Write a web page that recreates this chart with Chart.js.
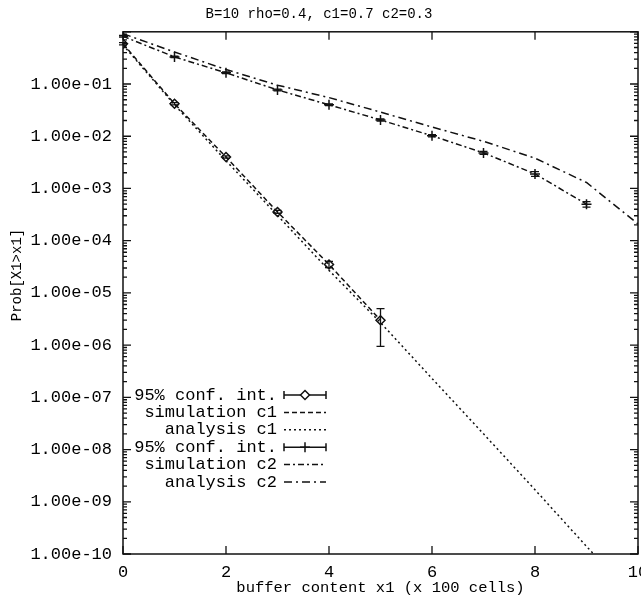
<!DOCTYPE html>
<html><head><meta charset="utf-8">
<script src="https://cdn.jsdelivr.net/npm/chart.js@4.4.1/dist/chart.umd.min.js"></script>
<style>
html,body{margin:0;padding:0;background:#fff;overflow:hidden;}
#wrap{width:660px;height:600px;position:relative;}
</style></head><body>
<div id="wrap"><canvas id="c"></canvas></div>
<script>
// ---- data ----
const titleText = 'B=10 rho=0.4, c1=0.7 c2=0.3';
const xTitle = 'buffer content x1 (x 100 cells)';
const yTitle = 'Prob[X1>x1]';

const xSimC1 = [0, 1, 2, 3, 4, 5];
const simC1  = [0.59, 0.042, 4.0e-3, 3.55e-4, 3.5e-5, 3.0e-6];
const simC1Lo = [0.56, 0.040, 3.8e-3, 3.35e-4, 3.05e-5, 9.5e-7];
const simC1Hi = [0.62, 0.044, 4.2e-3, 3.8e-4, 4.0e-5, 5.0e-6];

const xAnaC1 = [0, 1, 2, 3, 4, 5, 6, 7, 8, 9, 10];
const anaC1  = [0.56, 0.040, 3.4e-3, 3.05e-4, 2.7e-5, 2.7e-6, 2.3e-7, 2.0e-8, 1.7e-9, 1.4e-10, 1.2e-11];

const xSimC2 = [0, 1, 2, 3, 4, 5, 6, 7, 8, 9];
const simC2  = [0.82, 0.33, 0.164, 0.077, 0.040, 0.0205, 0.0102, 4.8e-3, 1.9e-3, 5.0e-4];
const simC2Lo = [0.79, 0.32, 0.158, 0.074, 0.0385, 0.0196, 0.0097, 4.5e-3, 1.7e-3, 4.4e-4];
const simC2Hi = [0.85, 0.34, 0.170, 0.080, 0.0415, 0.0214, 0.0107, 5.1e-3, 2.1e-3, 5.6e-4];

const xAnaC2 = [0, 1, 2, 3, 4, 5, 6, 7, 8, 9, 10];
const anaC2  = [0.92, 0.41, 0.19, 0.095, 0.055, 0.029, 0.015, 0.0080, 0.0038, 0.0013, 0.00021];

const xTickValues = [0, 2, 4, 6, 8, 10];
const yTickValues = [1e-10, 1e-9, 1e-8, 1e-7, 1e-6, 1e-5, 1e-4, 1e-3, 1e-2, 1e-1, 1];
const yTickLabels = ['1.00e-10','1.00e-09','1.00e-08','1.00e-07','1.00e-06','1.00e-05','1.00e-04','1.00e-03','1.00e-02','1.00e-01',''];

const legendLabels = ['95% conf. int.', 'simulation c1', 'analysis c1', '95% conf. int.', 'simulation c2', 'analysis c2'];

// ---- build ----
const pts = (xs, ys) => xs.map((x, i) => ({x: x, y: ys[i]}));
const FONT = "'Liberation Mono', 'DejaVu Sans Mono', monospace";
const INK = '#111';
const dashSimC1 = [5, 3];
const dashAnaC1 = [2, 3];
const dashSimC2 = [6, 3, 2, 3];
const dashAnaC2 = [8, 4, 2, 4];

const datasets = [
  {label: 'simulation c1', data: pts(xSimC1, simC1), borderColor: INK, borderWidth: 1.5, borderDash: dashSimC1,
   pointStyle: 'rectRot', pointRadius: 4.5, pointBorderWidth: 1.5, pointBorderColor: INK, pointBackgroundColor: 'rgba(0,0,0,0)', tension: 0},
  {label: 'analysis c1', data: pts(xAnaC1, anaC1), borderColor: INK, borderWidth: 1.5, borderDash: dashAnaC1, pointRadius: 0, tension: 0},
  {label: 'simulation c2', data: pts(xSimC2, simC2), borderColor: INK, borderWidth: 1.5, borderDash: dashSimC2,
   pointStyle: 'cross', pointRadius: 5, pointBorderWidth: 1.5, pointBorderColor: INK, tension: 0},
  {label: 'analysis c2', data: pts(xAnaC2, anaC2), borderColor: INK, borderWidth: 1.5, borderDash: dashAnaC2, pointRadius: 0, tension: 0}
];

function drawDiamond(ctx, x, y, r) {
  ctx.beginPath();
  ctx.moveTo(x, y - r); ctx.lineTo(x + r, y); ctx.lineTo(x, y + r); ctx.lineTo(x - r, y); ctx.closePath();
  ctx.stroke();
}
function drawPlus(ctx, x, y, r) {
  ctx.beginPath();
  ctx.moveTo(x - r, y); ctx.lineTo(x + r, y); ctx.moveTo(x, y - r); ctx.lineTo(x, y + r);
  ctx.stroke();
}

const deco = {
  id: 'deco',
  beforeDatasetsDraw(chart) {
    const ctx = chart.ctx, xs = chart.scales.x, ys = chart.scales.y;
    ctx.save();
    ctx.strokeStyle = INK; ctx.lineWidth = 1.3; ctx.setLineDash([]);
    const bars = (xv, lo, hi) => {
      xv.forEach((xx, i) => {
        const px = xs.getPixelForValue(xx);
        const p1 = ys.getPixelForValue(lo[i]), p2 = ys.getPixelForValue(hi[i]);
        ctx.beginPath();
        ctx.moveTo(px, p1); ctx.lineTo(px, p2);
        ctx.moveTo(px - 4, p1); ctx.lineTo(px + 4, p1);
        ctx.moveTo(px - 4, p2); ctx.lineTo(px + 4, p2);
        ctx.stroke();
      });
    };
    bars(xSimC1, simC1Lo, simC1Hi);
    bars(xSimC2, simC2Lo, simC2Hi);
    ctx.restore();
  },
  afterDraw(chart) {
    const ctx = chart.ctx, a = chart.chartArea, xs = chart.scales.x, ys = chart.scales.y;
    ctx.save();
    ctx.strokeStyle = INK; ctx.setLineDash([]);
    // frame
    ctx.lineWidth = 1.5;
    ctx.strokeRect(a.left, a.top, a.right - a.left, a.bottom - a.top);
    // x ticks (inward, top and bottom)
    ctx.lineWidth = 1.3;
    ctx.beginPath();
    xTickValues.forEach(v => {
      const px = xs.getPixelForValue(v);
      ctx.moveTo(px, a.bottom); ctx.lineTo(px, a.bottom - 8);
      ctx.moveTo(px, a.top); ctx.lineTo(px, a.top + 8);
    });
    // y ticks major + minor (inward, left and right)
    yTickValues.forEach((v, k) => {
      const py = ys.getPixelForValue(v);
      ctx.moveTo(a.left, py); ctx.lineTo(a.left + 8, py);
      ctx.moveTo(a.right, py); ctx.lineTo(a.right - 8, py);
      if (k < yTickValues.length - 1) {
        for (let m = 2; m <= 9; m++) {
          const pm = ys.getPixelForValue(v * m);
          ctx.moveTo(a.left, pm); ctx.lineTo(a.left + 4, pm);
          ctx.moveTo(a.right, pm); ctx.lineTo(a.right - 4, pm);
        }
      }
    });
    ctx.stroke();

    // y title
    ctx.fillStyle = '#000';
    ctx.font = '14px ' + FONT;
    ctx.save();
    ctx.translate(17, 275);
    ctx.rotate(-Math.PI / 2);
    ctx.textAlign = 'center'; ctx.textBaseline = 'middle';
    ctx.fillText(yTitle, 0, 0);
    ctx.restore();

    // legend
    const tx = 277, sx0 = 284, sx1 = 326, y0 = 395, dy = 17.4;
    ctx.font = '17px ' + FONT;
    ctx.textAlign = 'right'; ctx.textBaseline = 'middle';
    const kinds = ['eb1', dashSimC1, dashAnaC1, 'eb2', dashSimC2, dashAnaC2];
    legendLabels.forEach((lab, i) => {
      const y = y0 + i * dy;
      ctx.fillText(lab, tx, y);
      const k = kinds[i];
      ctx.lineWidth = 1.5;
      if (typeof k === 'string') {
        ctx.setLineDash([]);
        ctx.beginPath();
        ctx.moveTo(sx0, y); ctx.lineTo(sx1, y);
        ctx.moveTo(sx0, y - 4); ctx.lineTo(sx0, y + 4);
        ctx.moveTo(sx1, y - 4); ctx.lineTo(sx1, y + 4);
        ctx.stroke();
        const cx = (sx0 + sx1) / 2;
        if (k === 'eb1') {
          ctx.fillStyle = '#fff';
          ctx.beginPath(); ctx.moveTo(cx, y - 4.5); ctx.lineTo(cx + 4.5, y); ctx.lineTo(cx, y + 4.5); ctx.lineTo(cx - 4.5, y); ctx.closePath(); ctx.fill();
          drawDiamond(ctx, cx, y, 4.5);
          ctx.fillStyle = '#000';
        } else {
          drawPlus(ctx, cx, y, 5);
        }
      } else {
        ctx.setLineDash(k);
        ctx.beginPath(); ctx.moveTo(sx0, y); ctx.lineTo(sx1, y); ctx.stroke();
        ctx.setLineDash([]);
      }
    });
    ctx.restore();
  }
};

new Chart(document.getElementById('c'), {
  type: 'line',
  data: {datasets: datasets},
  plugins: [deco],
  options: {
    responsive: true, maintainAspectRatio: false, animation: false, devicePixelRatio: 1,
    layout: {padding: {left: 0, right: 22, top: 0, bottom: 0}},
    plugins: {
      legend: {display: false},
      tooltip: {enabled: false},
      title: {display: true, text: titleText, color: '#000', font: {family: FONT, size: 14, weight: 'normal'}, padding: {top: 6, bottom: 9}}
    },
    scales: {
      x: {
        type: 'linear', min: 0, max: 10,
        afterBuildTicks: s => { s.ticks = xTickValues.map(v => ({value: v})); },
        ticks: {color: '#000', font: {family: FONT, size: 17}, padding: 8, maxRotation: 0},
        grid: {display: false, drawTicks: false},
        border: {display: false},
        title: {display: true, text: xTitle, color: '#000', font: {family: FONT, size: 15.5}, padding: {top: 0, bottom: 3}},
        afterFit: s => { s.height = 46; }
      },
      y: {
        type: 'logarithmic', min: 1e-10, max: 1,
        afterBuildTicks: s => { s.ticks = yTickValues.map(v => ({value: v})); },
        ticks: {color: '#000', font: {family: FONT, size: 17}, padding: 11,
          callback: (v, i) => yTickLabels[i]},
        grid: {display: false, drawTicks: false},
        border: {display: false},
        afterFit: s => { s.width = 123; }
      }
    }
  }
});
</script>
</body></html>
